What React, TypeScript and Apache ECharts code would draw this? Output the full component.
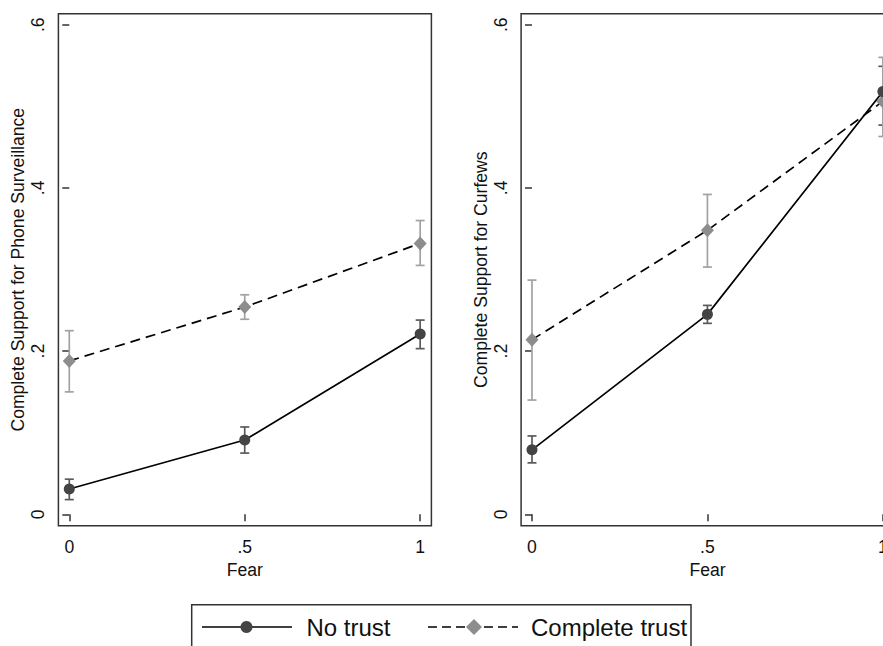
import React, { useEffect, useRef } from "react";
import * as echarts from "echarts";

// ---- data ----
const fearLevels = [0, 0.5, 1];
const xTickValues = [0, 0.5, 1];
const yTickValues = [0, 0.2, 0.4, 0.6];

// Left panel: Complete Support for Phone Surveillance
const phoneNoTrust = [0.031, 0.091, 0.221];
const phoneNoTrustLo = [0.018, 0.075, 0.203];
const phoneNoTrustHi = [0.043, 0.107, 0.238];
const phoneTrust = [0.188, 0.254, 0.332];
const phoneTrustLo = [0.150, 0.239, 0.305];
const phoneTrustHi = [0.225, 0.269, 0.360];

// Right panel: Complete Support for Curfews
const curfewNoTrust = [0.079, 0.245, 0.518];
const curfewNoTrustLo = [0.063, 0.234, 0.477];
const curfewNoTrustHi = [0.096, 0.256, 0.549];
const curfewTrust = [0.214, 0.348, 0.506];
const curfewTrustLo = [0.140, 0.303, 0.463];
const curfewTrustHi = [0.287, 0.392, 0.560];

const panelTitles = [
  "Complete Support for Phone Surveillance",
  "Complete Support for Curfews",
];
const xTitle = "Fear";
const legendNames = ["No trust", "Complete trust"];

const FONT = "'Liberation Sans', Arial, Helvetica, sans-serif";
const TEXT = "#111";
const FRAME = "#333";
const DARK = "#444";
const LIGHT = "#8d8d8d";
const CI_DARK = "#5a5a5a";
const CI_LIGHT = "#a2a2a2";
const FS = 17.6;

const fmt = (v: number) => {
  const r = Math.round(v * 10) / 10;
  if (r === 0) return "0";
  if (r === 1) return "1";
  return String(r).replace(/^0/, "");
};

const pts = (ys: number[]) => fearLevels.map((x, i) => [x, ys[i]]);
const ci = (lo: number[], hi: number[]) => fearLevels.map((x, i) => [x, lo[i], hi[i]]);

function ciSeries(idx: number, data: number[][], color: string) {
  return {
    type: "custom",
    xAxisIndex: idx,
    yAxisIndex: idx,
    data,
    encode: { x: 0, y: [1, 2] },
    z: 2,
    renderItem: (_p: any, api: any) => {
      const x = api.value(0);
      const lo = api.coord([x, api.value(1)]);
      const hi = api.coord([x, api.value(2)]);
      const w = 4.5;
      const style = { stroke: color, lineWidth: 1.7 };
      return {
        type: "group",
        children: [
          { type: "line", shape: { x1: lo[0], y1: lo[1], x2: hi[0], y2: hi[1] }, style },
          { type: "line", shape: { x1: lo[0] - w, y1: lo[1], x2: lo[0] + w, y2: lo[1] }, style },
          { type: "line", shape: { x1: hi[0] - w, y1: hi[1], x2: hi[0] + w, y2: hi[1] }, style },
        ],
      };
    },
  };
}

function noTrustLine(idx: number, ys: number[]) {
  return {
    type: "line",
    name: legendNames[0],
    xAxisIndex: idx,
    yAxisIndex: idx,
    data: pts(ys),
    symbol: "circle",
    symbolSize: 11,
    itemStyle: { color: DARK },
    lineStyle: { color: "#000", width: 1.7, type: "solid" },
    z: 4,
  };
}

function trustLine(idx: number, ys: number[]) {
  return {
    type: "line",
    name: legendNames[1],
    xAxisIndex: idx,
    yAxisIndex: idx,
    data: pts(ys),
    symbol: "diamond",
    symbolSize: [13, 14],
    itemStyle: { color: LIGHT },
    lineStyle: { color: "#000", width: 1.7, type: [10, 6] },
    z: 3,
  };
}

function xAxisFor(idx: number) {
  return {
    type: "value",
    gridIndex: idx,
    min: -0.031,
    max: 1.032,
    name: xTitle,
    nameLocation: "middle",
    nameGap: 31,
    nameTextStyle: { fontFamily: FONT, fontSize: FS, color: TEXT },
    axisLine: { show: false },
    splitLine: { show: false },
    axisTick: {
      show: true,
      customValues: xTickValues,
      length: 7,
      lineStyle: { color: FRAME, width: 1.5 },
    },
    axisLabel: {
      customValues: xTickValues,
      formatter: fmt,
      margin: 12,
      fontFamily: FONT,
      fontSize: FS,
      color: TEXT,
    },
  };
}

function yAxisFor(idx: number) {
  return {
    type: "value",
    gridIndex: idx,
    min: -0.014,
    max: 0.6135,
    name: panelTitles[idx],
    nameLocation: "middle",
    nameRotate: 90,
    nameGap: 31,
    nameTextStyle: { fontFamily: FONT, fontSize: FS, color: TEXT },
    axisLine: { show: false },
    splitLine: { show: false },
    axisTick: {
      show: true,
      customValues: yTickValues,
      length: 7,
      lineStyle: { color: FRAME, width: 1.5 },
    },
    axisLabel: {
      customValues: yTickValues,
      formatter: fmt,
      rotate: 90,
      margin: 11,
      fontFamily: FONT,
      fontSize: FS,
      color: TEXT,
    },
  };
}

export default function App() {
  const ref = useRef<HTMLDivElement>(null);

  useEffect(() => {
    if (!ref.current) return;
    const chart = echarts.init(ref.current, null, { renderer: "svg" });
    const legendY = 627;
    const gridBase = {
      top: 13.7,
      width: 373,
      height: 512,
      show: true,
      borderColor: FRAME,
      borderWidth: 1.5,
      backgroundColor: "#fff",
      outerBoundsMode: "none",
      containLabel: false,
    };
    chart.setOption({
      animation: false,
      backgroundColor: "#fff",
      grid: [
        { ...gridBase, left: 58.4 },
        { ...gridBase, left: 521.1 },
      ],
      xAxis: [xAxisFor(0), xAxisFor(1)],
      yAxis: [yAxisFor(0), yAxisFor(1)],
      series: [
        ciSeries(0, ci(phoneNoTrustLo, phoneNoTrustHi), CI_DARK),
        ciSeries(0, ci(phoneTrustLo, phoneTrustHi), CI_LIGHT),
        noTrustLine(0, phoneNoTrust),
        trustLine(0, phoneTrust),
        ciSeries(1, ci(curfewNoTrustLo, curfewNoTrustHi), CI_DARK),
        ciSeries(1, ci(curfewTrustLo, curfewTrustHi), CI_LIGHT),
        noTrustLine(1, curfewNoTrust),
        trustLine(1, curfewTrust),
      ],
      graphic: [
        {
          type: "rect",
          shape: { x: 191.7, y: 604.7, width: 499.3, height: 60 },
          style: { fill: "#fff", stroke: FRAME, lineWidth: 1.5 },
        },
        {
          type: "line",
          shape: { x1: 202, y1: legendY, x2: 292, y2: legendY },
          style: { stroke: "#000", lineWidth: 1.7 },
        },
        {
          type: "circle",
          shape: { cx: 246.5, cy: legendY, r: 6 },
          style: { fill: DARK },
        },
        {
          type: "text",
          x: 306.5,
          y: legendY,
          style: { text: legendNames[0], fontFamily: FONT, fontSize: 24, fill: TEXT, verticalAlign: "middle", align: "left" },
        },
        {
          type: "line",
          shape: { x1: 428, y1: legendY, x2: 518, y2: legendY },
          style: { stroke: "#000", lineWidth: 1.7, lineDash: [9, 5] },
        },
        {
          type: "polygon",
          shape: { points: [[474, legendY - 8], [482, legendY], [474, legendY + 8], [466, legendY]] },
          style: { fill: LIGHT },
        },
        {
          type: "text",
          x: 531,
          y: legendY,
          style: { text: legendNames[1], fontFamily: FONT, fontSize: 24, fill: TEXT, verticalAlign: "middle", align: "left" },
        },
      ],
    });
    return () => chart.dispose();
  }, []);

  return (
    <div
      ref={ref}
      style={{ position: "fixed", left: 0, top: 0, width: 883, height: 646, background: "#fff" }}
    />
  );
}
